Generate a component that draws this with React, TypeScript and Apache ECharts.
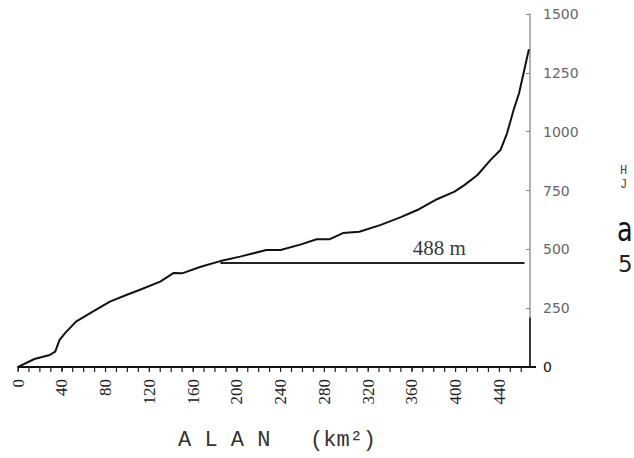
import React, { useEffect, useRef } from "react";
import * as echarts from "echarts";

// Hypsometric curve: cumulative area (km²) vs elevation (m)
const areaKm2 = [0, 2, 15, 29, 34, 38, 43, 53, 66, 84, 99, 111, 130, 142, 150, 167, 185, 203, 227, 240, 258, 273, 285, 297, 312, 331, 350, 365, 383, 399, 408, 420, 432, 441, 447, 453, 458, 467];
const elevationM = [0, 5, 34, 51, 65, 115, 144, 193, 229, 278, 306, 327, 363, 399, 398, 426, 450, 469, 497, 497, 520, 543, 543, 569, 575, 603, 637, 667, 713, 745, 773, 816, 880, 922, 993, 1092, 1163, 1350];

// Mean elevation reference line
const refLineX = [185, 463];
const refLineY = 442;
const refLabel = "488 m";
const refLabelPos = [385, 506];

const xMax = 468;
const xTickLabelStep = 40;
const xTickValues = [0, 10, 20, 30, 40, 50, 60, 70, 80, 90, 100, 110, 120, 130, 140, 150, 160, 170, 180, 190, 200, 210, 220, 230, 240, 250, 260, 270, 280, 290, 300, 310, 320, 330, 340, 350, 360, 370, 380, 390, 400, 410, 420, 430, 440, 450, 460];
const xTitle = "A L A N   (km²)";
const sideTexts = ["H", "J", "a", "5"];

export default function App() {
  const ref = useRef<HTMLDivElement>(null);
  useEffect(() => {
    if (!ref.current) return;
    const chart = echarts.init(ref.current, null, { renderer: "svg" });
    const curve = areaKm2.map((x, i) => [x, elevationM[i]]);
    const textGraphics: any[] = [
      { type: "text", left: 178, top: 429, style: { text: xTitle, font: "22px 'Liberation Mono'", fill: "#333" } },
      { type: "text", left: 620, top: 165, style: { text: sideTexts[0], font: "12px 'Liberation Mono'", fill: "#444" } },
      { type: "text", left: 620, top: 179, style: { text: sideTexts[1], font: "12px 'Liberation Mono'", fill: "#444" } },
      { type: "text", left: 617, top: 212, scaleX: 0.75, style: { text: sideTexts[2], font: "34px 'DejaVu Sans'", fill: "#111" } },
      { type: "text", left: 618, top: 252, style: { text: sideTexts[3], font: "23px 'DejaVu Sans'", fill: "#222" } },
    ];
    chart.setOption({
      animation: false,
      backgroundColor: "#ffffff",
      grid: { left: 18, right: 104, top: 14, bottom: 91, containLabel: false },
      xAxis: {
        type: "value",
        position: "bottom",
        min: 0,
        max: xMax,
        interval: xTickLabelStep,
        axisLine: { show: true, lineStyle: { color: "#111", width: 2 } },
        axisTick: { show: true, length: 4, lineStyle: { color: "#222", width: 1 } },
        splitLine: { show: false },
        axisLabel: {
          rotate: 90,
          margin: 12,
          fontFamily: "Liberation Serif",
          fontSize: 17,
          color: "#222",
          showMaxLabel: false,
          formatter: (v: number) => (v % xTickLabelStep === 0 ? String(v) : ""),
        },
      },
      yAxis: {
        type: "value",
        position: "right",
        min: 0,
        max: 1500,
        interval: 250,
        axisLine: { show: true, onZero: false, lineStyle: { color: "#999", width: 1.5 } },
        axisTick: { show: true, inside: true, length: 4, lineStyle: { color: "#888" } },
        splitLine: { show: false },
        axisLabel: {
          margin: 13,
          fontFamily: "DejaVu Sans",
          fontSize: 14,
          formatter: (v: number) => String(v),
          color: (v: any) => (Number(v) === 0 ? "#111" : "#666"),
        },
      },
      series: [
        {
          type: "line",
          data: curve,
          symbol: "none",
          smooth: false,
          lineStyle: { color: "#111", width: 2 },
          clip: false,
        },
        {
          type: "line",
          data: [
            [refLineX[0], refLineY],
            [refLineX[1], refLineY],
          ],
          symbol: "none",
          lineStyle: { color: "#222", width: 2 },
        },
        {
          type: "line",
          data: [
            [xMax, 0],
            [xMax, 210],
          ],
          symbol: "none",
          clip: false,
          lineStyle: { color: "#111", width: 1.5 },
        },
        {
          type: "scatter",
          data: [refLabelPos],
          symbolSize: 0,
          label: {
            show: true,
            position: "inside",
            formatter: refLabel,
            fontFamily: "Liberation Serif",
            fontSize: 21,
            color: "#000",
          },
        },
      ],
      graphic: textGraphics,
    });

    // Bottom axis line and minor ticks, placed through the chart's own scales
    const origin = chart.convertToPixel({ gridIndex: 0 }, [0, 0]) as number[];
    const end = chart.convertToPixel({ gridIndex: 0 }, [xMax, 0]) as number[];
    const axisGraphics: any[] = [
      {
        type: "rect",
        z: 1000,
        shape: { x: origin[0], y: origin[1] - 1, width: end[0] - origin[0] + 6, height: 2 },
        style: { fill: "#111" },
      },
    ];
    xTickValues.forEach((v) => {
      const p = chart.convertToPixel({ gridIndex: 0 }, [v, 0]) as number[];
      axisGraphics.push({
        type: "rect",
        z: 1000,
        shape: { x: p[0] - 0.6, y: p[1], width: 1.2, height: 5 },
        style: { fill: "#222" },
      });
    });
    chart.setOption({ graphic: textGraphics.concat(axisGraphics) });
    return () => chart.dispose();
  }, []);
  return <div ref={ref} style={{ width: 634, height: 458, position: "absolute", left: 0, top: 0 }} />;
}
